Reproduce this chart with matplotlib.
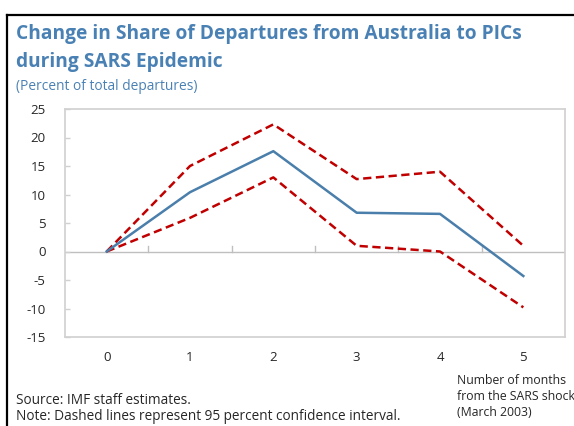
import matplotlib
matplotlib.use("Agg")
import matplotlib.pyplot as plt
from matplotlib.lines import Line2D

# Data
months = [0, 1, 2, 3, 4, 5]
estimate = [0.0, 10.4, 17.6, 6.8, 6.6, -4.3]
upper_ci = [0.0, 15.0, 22.3, 12.7, 14.0, 1.0]
lower_ci = [0.0, 5.9, 13.0, 1.0, 0.0, -9.8]
yticks = [25, 20, 15, 10, 5, 0, -5, -10, -15]

plt.rcParams['font.family'] = ['Open Sans', 'DejaVu Sans']
plt.rcParams['axes.unicode_minus'] = False
blue_title = '#4a81b4'
text_gray = '#262626'

fig = plt.figure(figsize=(5.74, 4.26), dpi=100)
W, H = 574, 426

# frame lines (left and top)
fig.add_artist(Line2D([7 / W, 7 / W], [0, 1 - 15 / H], color='black', lw=1.6,
                      transform=fig.transFigure))
fig.add_artist(Line2D([7 / W, 1], [1 - 15 / H, 1 - 15 / H], color='black', lw=1.6,
                      transform=fig.transFigure))

# plot area in pixels: left 65, right 565, top 109, bottom 337
ax = fig.add_axes([65 / W, 1 - 337 / H, 500 / W, 228 / H])

ax.plot(months, upper_ci, color='#c00000', lw=1.8, ls=(0, (3.3, 1.8)))
ax.plot(months, lower_ci, color='#c00000', lw=1.8, ls=(0, (3.3, 1.8)))
ax.plot(months, estimate, color='#4a7eab', lw=1.8)

ax.set_xlim(-0.5, 5.5)
ax.set_ylim(-15, 25)
ax.set_yticks(yticks)
ax.set_xticks(months)
ax.tick_params(axis='both', labelsize=9.5, labelcolor=text_gray)
ax.tick_params(axis='x', length=0, pad=10)
ax.tick_params(axis='y', direction='in', length=3.5, color='#d0d0d0', width=1.0, pad=14)

for s in ax.spines.values():
    s.set_color('#d0d0d0')
    s.set_linewidth(1.2)

# zero line with category separator ticks
ax.axhline(0, color='#bfbfbf', lw=1.0, zorder=0)
for b in [0.5, 1.5, 2.5, 3.5, 4.5]:
    ax.plot([b, b], [0, 0.9], color='#bfbfbf', lw=1.0, zorder=0)

fig.text(16 / W, 1 - 34 / H, 'Change in Share of Departures from Australia to PICs',
         color=blue_title, fontsize=13.8, fontweight='bold', va='center')
fig.text(16 / W, 1 - 62 / H, 'during SARS Epidemic',
         color=blue_title, fontsize=13.8, fontweight='bold', va='center')
fig.text(16 / W, 1 - 86 / H, '(Percent of total departures)',
         color=blue_title, fontsize=9.9, va='center')

fig.text(16 / W, 1 - 401 / H, 'Source: IMF staff estimates.',
         color=text_gray, fontsize=9.8, va='center')
fig.text(16 / W, 1 - 417 / H, 'Note: Dashed lines represent 95 percent confidence interval.',
         color=text_gray, fontsize=9.8, va='center')

fig.text(457 / W, 1 - 380 / H, 'Number of months', color=text_gray, fontsize=8.8, va='center')
fig.text(457 / W, 1 - 396 / H, 'from the SARS shock', color=text_gray, fontsize=8.8, va='center')
fig.text(457 / W, 1 - 412 / H, '(March 2003)', color=text_gray, fontsize=8.8, va='center')

fig.savefig('out.png', dpi=100)
